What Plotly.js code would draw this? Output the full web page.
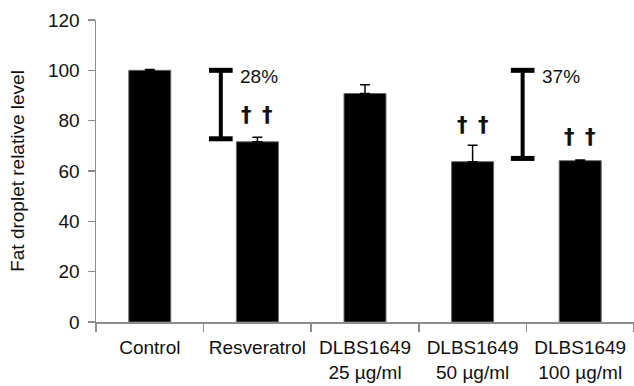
<!DOCTYPE html>
<html>
<head>
<meta charset="utf-8">
<script src="https://cdn.plot.ly/plotly-3.0.1.min.js"></script>
<style>html,body{margin:0;padding:0;background:#fff;}#chart{width:634px;height:386px;}</style>
</head>
<body>
<div id="chart"></div>
<script>
// Data
const categories = ["Control", "Resveratrol", "DLBS1649<br>25 µg/ml", "DLBS1649<br>50 µg/ml", "DLBS1649<br>100 µg/ml"];
const values = [100, 71.6, 90.8, 63.7, 64.1];
const errorsUp = [0.3, 1.8, 3.5, 6.5, 0.3];
const daggerLabels = ["", "†\u2002†", "", "†\u2002†", "†\u2002†"];
const daggerLevels = [null, 82.2, null, 78.3, 73.6];
// reduction brackets: position (category index offset), top, bottom, label
const bracketPos = [0.66, 3.465];
const bracketTop = [100, 100];
const bracketBottom = [72.8, 65];
const bracketLabels = ["28%", "37%"];

const fontFam = "Liberation Sans, Arial, sans-serif";
const shapes = [];
const annotations = [];
const capHalf = 0.11;
bracketPos.forEach((p, i) => {
  shapes.push({type: "line", xref: "x", yref: "y", x0: p, x1: p, y0: bracketTop[i], y1: bracketBottom[i], line: {color: "#000", width: 4}});
  shapes.push({type: "line", xref: "x", yref: "y", x0: p - capHalf, x1: p + capHalf, y0: bracketTop[i], y1: bracketTop[i], line: {color: "#000", width: 5}});
  shapes.push({type: "line", xref: "x", yref: "y", x0: p - capHalf, x1: p + capHalf, y0: bracketBottom[i], y1: bracketBottom[i], line: {color: "#000", width: 5}});
  annotations.push({xref: "x", yref: "y", x: p + capHalf + 0.05, y: bracketTop[i], yshift: -6, text: bracketLabels[i], showarrow: false, xanchor: "left", yanchor: "middle", font: {family: fontFam, size: 19, color: "#111"}});
});
daggerLabels.forEach((t, i) => {
  if (!t) return;
  annotations.push({xref: "x", yref: "y", x: i, y: daggerLevels[i], text: "<b>" + t + "</b>", showarrow: false, xanchor: "center", yanchor: "middle", font: {family: "DejaVu Sans, sans-serif", size: 21, color: "#111"}});
});

const trace = {
  type: "bar",
  x: categories,
  y: values,
  width: 0.39,
  marker: {color: "#000", line: {color: "#666", width: 1}},
  error_y: {type: "data", symmetric: false, array: errorsUp, arrayminus: values.map(() => 0), color: "#000", thickness: 1.5, width: 5},
  hoverinfo: "none"
};

const layout = {
  width: 634, height: 386,
  margin: {l: 96, r: 0, t: 20, b: 64},
  paper_bgcolor: "#fff", plot_bgcolor: "#fff",
  showlegend: false,
  font: {family: fontFam, size: 19, color: "#111"},
  xaxis: {
    type: "category", range: [-0.5, 4.5],
    showline: true, linecolor: "#8c8c8c", linewidth: 1.5,
    ticks: "outside", tickson: "boundaries", ticklen: 8, tickcolor: "#8c8c8c", tickwidth: 1.5,
    showgrid: false, zeroline: false,
    tickfont: {family: fontFam, size: 19, color: "#111"},
    ticklabelstandoff: 8
  },
  yaxis: {
    range: [0, 120], dtick: 20,
    showline: true, linecolor: "#8c8c8c", linewidth: 1.5,
    ticks: "outside", ticklen: 7, tickcolor: "#8c8c8c", tickwidth: 1.5,
    showgrid: false, zeroline: false,
    tickfont: {family: fontFam, size: 19, color: "#111"},
    ticklabelstandoff: 4,
    title: {text: "Fat droplet relative level", font: {family: fontFam, size: 19, color: "#111"}, standoff: 18}
  },
  shapes: shapes,
  annotations: annotations
};

Plotly.newPlot("chart", [trace], layout, {displayModeBar: false, staticPlot: true});
</script>
</body>
</html>
